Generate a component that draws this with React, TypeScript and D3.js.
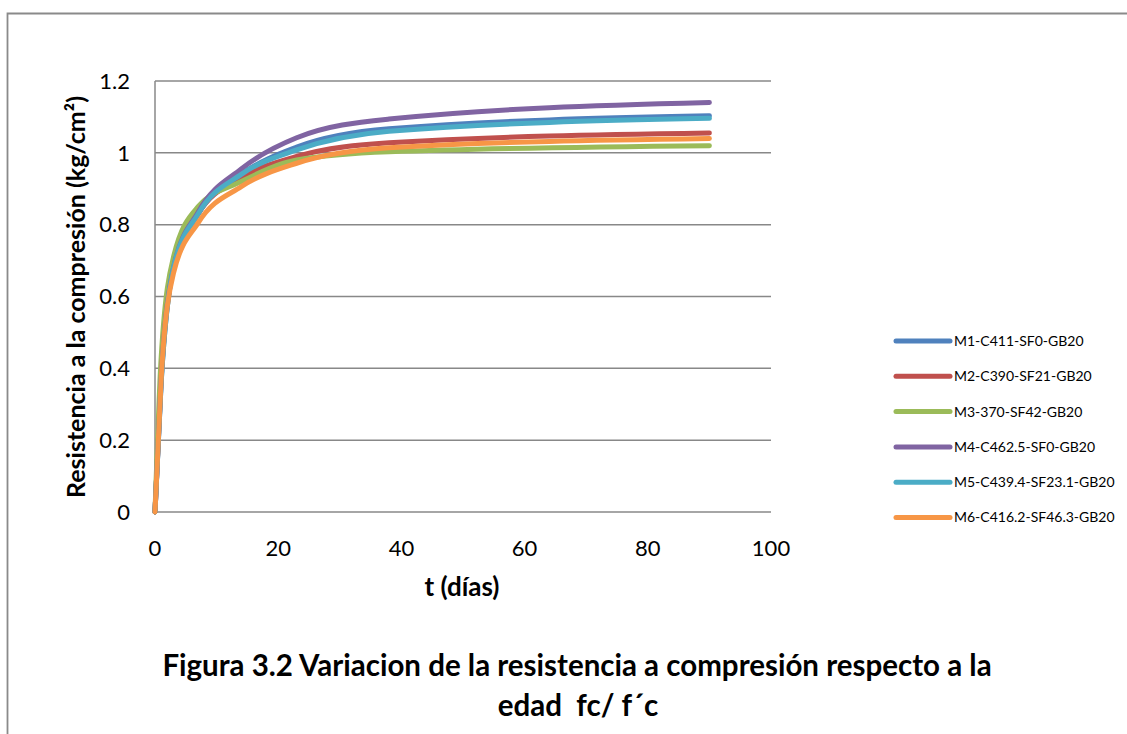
import React from "react";
import * as d3 from "d3";

const days = [0, 1, 3, 7, 14, 23, 38, 90];
const seriesNames = [
  "M1-C411-SF0-GB20",
  "M2-C390-SF21-GB20",
  "M3-370-SF42-GB20",
  "M4-C462.5-SF0-GB20",
  "M5-C439.4-SF23.1-GB20",
  "M6-C416.2-SF46.3-GB20",
];
const m1 = [0, 0.36, 0.68, 0.83, 0.94, 1.016, 1.067, 1.103];
const m2 = [0, 0.38, 0.685, 0.83, 0.93, 0.99, 1.028, 1.055];
const m3 = [0, 0.43, 0.71, 0.85, 0.92, 0.98, 1.003, 1.02];
const m4 = [0, 0.37, 0.68, 0.835, 0.955, 1.042, 1.094, 1.14];
const m5 = [0, 0.36, 0.68, 0.83, 0.94, 1.008, 1.06, 1.096];
const m6 = [0, 0.37, 0.665, 0.805, 0.906, 0.971, 1.014, 1.04];
const seriesValues = [m1, m2, m3, m4, m5, m6];
const colors = ["#4F81BD", "#C0504D", "#9BBB59", "#8064A2", "#4BACC6", "#F79646"];
const xTicks = [0, 20, 40, 60, 80, 100];
const yTicks = [0, 0.2, 0.4, 0.6, 0.8, 1, 1.2];

const W = 1127;
const H = 734;
const FONT = "Lato, 'Open Sans', sans-serif";

export default function App() {
  const x = d3.scaleLinear().domain([0, 100]).range([155, 771]);
  const y = d3.scaleLinear().domain([0, 1.2]).range([512, 81]);
  const line = d3
    .line<[number, number]>()
    .x((d) => x(d[0]))
    .y((d) => y(d[1]))
    .curve(d3.curveMonotoneX);

  const legendX = 896;
  const legendY0 = 341;
  const legendStep = 35.3;

  return (
    <svg
      width={W}
      height={H}
      style={{ position: "absolute", left: 0, top: 0, background: "#fff" }}
      fontFamily={FONT}
    >
      <rect x={0} y={0} width={W} height={H} fill="#fff" />
      {/* outer frame */}
      <path d={`M7.5,${H + 5} V13.5 H${W + 5}`} fill="none" stroke="#8a8a8a" strokeWidth={1.8} />

      {/* gridlines */}
      {yTicks.map((t) => (
        <line key={"g" + t} x1={x(0)} x2={x(100)} y1={y(t)} y2={y(t)} stroke="#888" strokeWidth={1.5} />
      ))}
      <line x1={x(0)} x2={x(0)} y1={y(1.2)} y2={y(0)} stroke="#888" strokeWidth={1.5} />

      {/* y tick labels */}
      {yTicks.map((t) => (
        <text key={"yl" + t} x={130} y={y(t)} dy="0.35em" textAnchor="end" fontSize={22} fill="#000">
          {d3.format("")(+t.toFixed(1))}
        </text>
      ))}
      {/* x tick labels */}
      {xTicks.map((t) => (
        <text key={"xl" + t} x={x(t)} y={548} dy="0.35em" textAnchor="middle" fontSize={22} fill="#000">
          {t}
        </text>
      ))}

      {/* axis titles */}
      <text x={462} y={587} dy="0.35em" textAnchor="middle" fontSize={26} fontWeight="bold" fill="#000">
        t (días)
      </text>
      <text
        transform={`translate(76,297) rotate(-90)`}
        dy="0.35em"
        textAnchor="middle"
        fontSize={25}
        fontWeight="bold"
        fill="#000"
      >
        Resistencia a la compresión (kg/cm²)
      </text>

      {/* series */}
      {seriesValues.map((vals, i) => (
        <path
          key={"s" + i}
          d={line(days.map((d, j) => [d, vals[j]] as [number, number])) || ""}
          fill="none"
          stroke={colors[i]}
          strokeWidth={5}
          strokeLinecap="round"
          strokeLinejoin="round"
        />
      ))}

      {/* legend */}
      {seriesNames.map((name, i) => (
        <g key={"lg" + i} transform={`translate(${legendX},${legendY0 + i * legendStep})`}>
          <line x1={0} x2={54} y1={0} y2={0} stroke={colors[i]} strokeWidth={5} strokeLinecap="round" />
          <text x={58} y={0} dy="0.35em" fontSize={14} fill="#000">
            {name}
          </text>
        </g>
      ))}

      {/* caption */}
      <text x={577} y={666} dy="0.35em" textAnchor="middle" fontSize={29.5} fontWeight="bold" fill="#000">
        Figura 3.2 Variacion de la resistencia a compresión respecto a la
      </text>
      <text x={578} y={706} dy="0.35em" textAnchor="middle" fontSize={29.5} fontWeight="bold" fill="#000" style={{ whiteSpace: "pre" }}>
        {"edad  fc/ f´c"}
      </text>
    </svg>
  );
}
